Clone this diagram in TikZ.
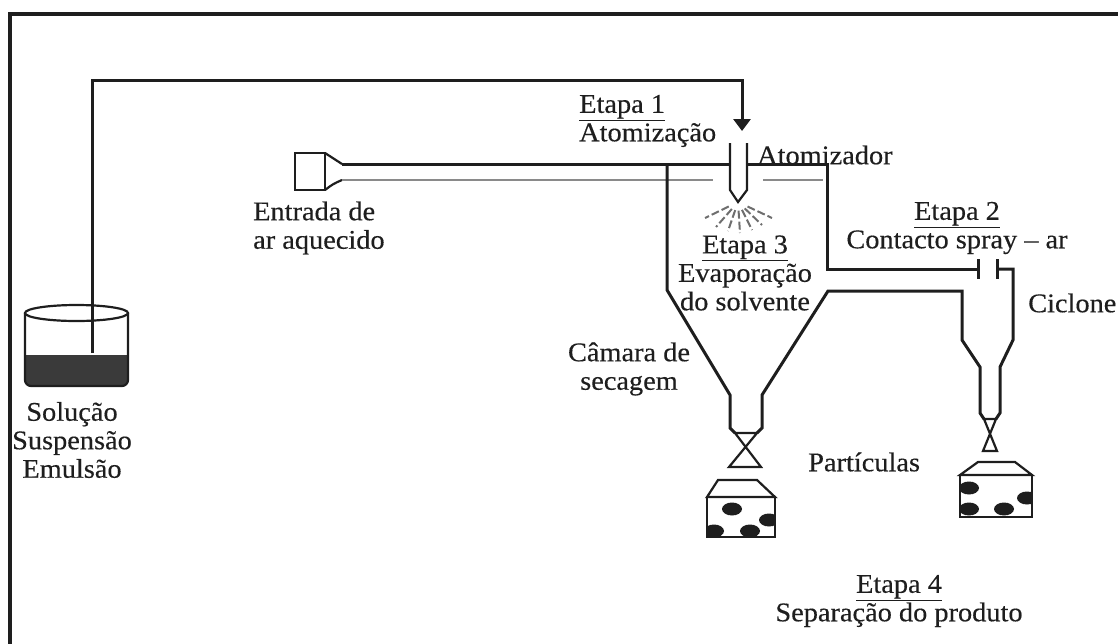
\documentclass[tikz,border=0pt]{standalone}
\usepackage{fontspec}
\setmainfont{Liberation Serif}[FakeStretch=1.05,FakeBold=0.35]
\usetikzlibrary{arrows.meta,calc}
\definecolor{ink}{HTML}{1E1E1E}
\definecolor{pipegray}{HTML}{8A8A8A}
\definecolor{mistgray}{HTML}{6E6E6E}
\definecolor{slurry}{HTML}{3A3A3A}
\begin{document}
\begin{tikzpicture}[x=1pt,y=-1pt,
  wall/.style={draw=ink,line width=3pt,line join=miter},
  thinwall/.style={draw=ink,line width=2.2pt,line join=miter},
  spray/.style={draw=mistgray,line width=2pt,dash pattern=on 8pt off 3pt},
  lbl/.style={font=\fontsize{27}{28.5}\selectfont,inner sep=0pt,text=ink},
  blob/.style={fill=ink}]
\useasboundingbox (0,0) rectangle (1118,643);

% outer frame, running off the right and bottom edges
\begin{scope}
  \clip (0,0) rectangle (1118,643);
  \draw[line width=3.2pt,draw=ink] (10,14) rectangle (1140,660);
\end{scope}

% feed vessel
\fill[slurry] (25,355) [rounded corners=6pt] -- (25,386) -- (128,386) [sharp corners] -- (128,355) -- cycle;
\draw[thinwall,rounded corners=6pt] (25,313) -- (25,386) -- (128,386) -- (128,313);
\draw[thinwall] (76.5,313) ellipse [x radius=51.5, y radius=8];

% feed line to the atomizer
\coordinate (dip) at (92,353);
\coordinate (feedtop) at (742,80);
\coordinate (feedend) at (742,131);
\draw[wall,-{Triangle[width=17pt,length=12pt]}] (dip) |- (feedtop) -- (feedend);

% atomizer nozzle and spray cone
\coordinate (tip) at (738,202);
\draw[thinwall] (730,143) -- (730,190) -- (tip) -- (747,190) -- (747,143);
\foreach \ex/\ey in {705/218,716/227,728/231,740/233,752/230,762/225,772/218}
  \draw[spray] ($(tip)!0.28!(\ex,\ey)$) -- (\ex,\ey);

% hot air inlet and duct
\draw[draw=ink,line width=2.6pt] (295,153) rectangle (325,190);
\draw[thinwall] (325,153) .. controls (333,159) .. (342,164);
\draw[thinwall] (325,190) .. controls (333,184) .. (342,180);
\draw[wall] (342,164) -- (730,164);
\draw[draw=pipegray,line width=2.2pt] (342,180) -- (713,180);
\draw[draw=pipegray,line width=2.2pt] (763,180) -- (823,180);

% drying chamber and outlet duct to the cyclone
\draw[wall] (747,164) -- (827,164) -- (827,269) -- (978,269);
\draw[wall] (978,259) -- (978,279);
\draw[wall] (997,259) -- (997,279);
\draw[wall] (667,164) -- (667,290) -- (730,395) -- (730,428) -- (735,433);
\draw[wall] (757,433) -- (762,428) -- (762,395) -- (828,291) -- (962,291)
  -- (962,340) -- (980,367) -- (980,413) -- (984,419);
\draw[wall] (997,269) -- (1013,269) -- (1013,340) -- (1000,367) -- (1000,413) -- (996,419);

% valves
\draw[thinwall] (735,433) -- (757,433) -- (729,467) -- (761,467) -- cycle;
\draw[thinwall] (984,419) -- (996,419) -- (983,451) -- (997,451) -- cycle;

% collectors
\draw[thinwall] (718,480) -- (757,480) -- (775,497) -- (707,497) -- cycle;
\draw[thinwall] (707,497) rectangle (775,537);
\begin{scope}
  \clip (707,497) rectangle (775,537);
  \foreach \bx/\by in {732/509,769/520,714/531,750/531}
    \fill[blob] (\bx,\by) ellipse [x radius=10, y radius=6.5];
\end{scope}
\draw[thinwall] (978,462) -- (1015,462) -- (1032,475) -- (960,475) -- cycle;
\draw[thinwall] (960,475) rectangle (1032,517);
\begin{scope}
  \clip (960,475) rectangle (1032,517);
  \foreach \bx/\by in {969/488,1027/498,969/509,1004/509}
    \fill[blob] (\bx,\by) ellipse [x radius=10, y radius=6.5];
\end{scope}

% labels
\node[lbl,align=center] (src) at (72,440) {Solução\\Suspensão\\Emulsão};
\node[lbl,align=left,anchor=west] (air) at (253,228) {Entrada de\\ar aquecido};
\node[lbl,align=left,anchor=west] (st1) at (579,121) {\underline{Etapa 1}\\Atomização};
\node[lbl,anchor=west] (atom) at (757,155) {Atomizador};
\node[lbl,align=center] (st2) at (957,228) {\underline{Etapa 2}\\Contacto spray – ar};
\node[lbl,align=center] (st3) at (745,273) {\underline{Etapa 3}\\Evaporação\\do solvente};
\node[lbl,align=center] (cam) at (629,369) {Câmara de\\secagem};
\node[lbl,anchor=west] (cyc) at (1028,303) {Ciclone};
\node[lbl,anchor=west] (part) at (808,462) {Partículas};
\node[lbl,align=center] (st4) at (899,601) {\underline{Etapa 4}\\Separação do produto};
\end{tikzpicture}
\end{document}
